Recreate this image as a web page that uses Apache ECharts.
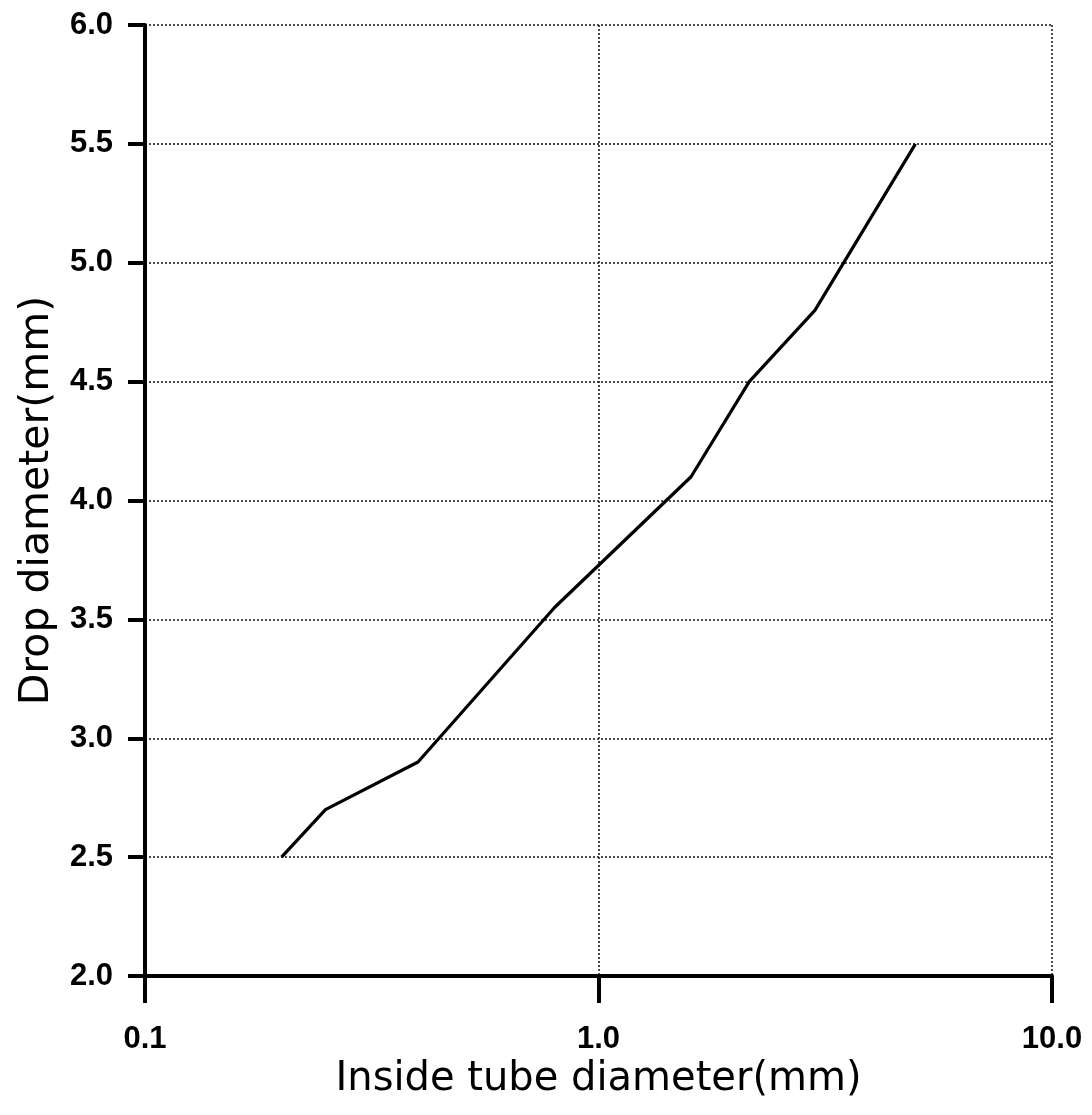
<!DOCTYPE html>
<html>
<head>
<meta charset="utf-8">
<script src="https://cdn.jsdelivr.net/npm/echarts@6/dist/echarts.min.js"></script>
<style>
html,body{margin:0;padding:0;background:#fff;}
#chart{width:1092px;height:1115px;}
</style>
</head>
<body>
<div id="chart"></div>
<script>
// Data
const tubeDiameter = [0.2, 0.25, 0.4, 0.8, 1.6, 2.15, 3.0, 5.0];
const dropDiameter = [2.5, 2.7, 2.9, 3.55, 4.1, 4.5, 4.8, 5.5];
const xTitle = 'Inside tube diameter(mm)';
const yTitle = 'Drop diameter(mm)';

const seriesData = tubeDiameter.map((x, i) => [x, dropDiameter[i]]);

const chart = echarts.init(document.getElementById('chart'));
const gridLine = { show: true, lineStyle: { color: '#111', width: 1.5, type: [2, 2] } };
chart.setOption({
  animation: false,
  backgroundColor: '#fff',
  grid: { left: 145, right: 40, top: 25, bottom: 139, containLabel: false },
  xAxis: {
    type: 'log', logBase: 10, min: 0.1, max: 10,
    name: xTitle, nameLocation: 'middle', nameGap: 72,
    nameTextStyle: { fontFamily: 'DejaVu Sans', fontSize: 40, color: '#000' },
    axisLine: { show: true, lineStyle: { color: '#000', width: 4 } },
    axisTick: { show: true, length: 27, lineStyle: { color: '#000', width: 4 } },
    axisLabel: { margin: 48, fontFamily: 'Liberation Sans', fontWeight: 'bold', fontSize: 31, color: '#000',
      formatter: v => Number(v).toFixed(1) },
    splitLine: gridLine,
    minorTick: { show: false }
  },
  yAxis: {
    type: 'value', min: 2, max: 6, interval: 0.5,
    name: yTitle, nameLocation: 'middle', nameGap: 87, nameRotate: 90,
    nameTextStyle: { fontFamily: 'DejaVu Sans', fontSize: 41, color: '#000' },
    axisLine: { show: true, lineStyle: { color: '#000', width: 4 } },
    axisTick: { show: true, length: 17, lineStyle: { color: '#000', width: 4 } },
    axisLabel: { margin: 32, fontFamily: 'Liberation Sans', fontWeight: 'bold', fontSize: 31, color: '#000',
      formatter: v => Number(v).toFixed(1) },
    splitLine: gridLine
  },
  series: [{
    type: 'line',
    data: seriesData,
    showSymbol: false,
    lineStyle: { color: '#000', width: 3.2 },
    z: 5
  }]
});
</script>
</body>
</html>
